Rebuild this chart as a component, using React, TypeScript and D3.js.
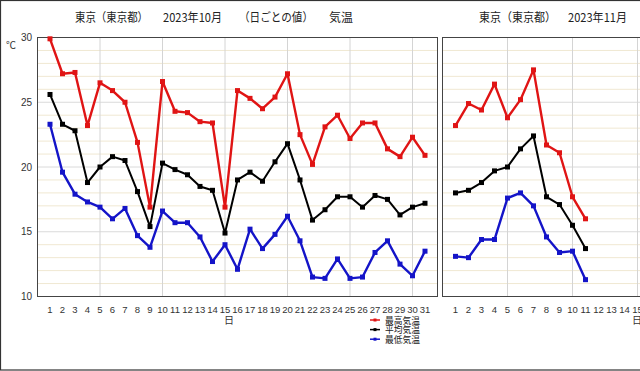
import React from 'react';
import * as d3 from 'd3';

// ---- data ----
const octDays = [1,2,3,4,5,6,7,8,9,10,11,12,13,14,15,16,17,18,19,20,21,22,23,24,25,26,27,28,29,30,31];
const octMax = [29.9,27.2,27.3,23.2,26.5,25.9,25.0,21.9,16.9,26.6,24.3,24.2,23.5,23.4,16.9,25.9,25.3,24.5,25.4,27.2,22.5,20.2,23.1,24.0,22.2,23.4,23.4,21.4,20.8,22.3,20.9];
const octMean = [25.6,23.3,22.8,18.8,20.0,20.8,20.5,18.1,15.4,20.3,19.8,19.4,18.5,18.2,14.9,19.0,19.6,18.9,20.4,21.8,19.0,15.9,16.7,17.7,17.7,16.9,17.8,17.5,16.3,16.9,17.2];
const octMin = [23.3,19.6,17.9,17.3,16.9,16.0,16.8,14.7,13.8,16.6,15.7,15.7,14.6,12.7,14.0,12.1,15.2,13.7,14.8,16.2,14.3,11.5,11.4,12.9,11.4,11.5,13.4,14.3,12.5,11.6,13.5];

// November axis labels visible in the frame
const novDays = [1,2,3,4,5,6,7,8,9,10,11,12,13,14,15];
const novMax = [23.2,24.9,24.4,26.4,23.8,25.2,27.5,21.7,21.1,17.7,16.0];
const novMean = [18.0,18.2,18.8,19.7,20.0,21.4,22.4,17.7,17.1,15.5,13.7];
const novMin = [13.1,13.0,14.4,14.4,17.6,18.0,17.0,14.6,13.4,13.5,11.3];

const yTicks = [10, 15, 20, 25, 30];
const gridDays = [5, 10, 15, 20, 25, 30];
const seriesNames = ['最高気温', '平均気温', '最低気温'];
const seriesColors = ['#e01414', '#000000', '#1414c8'];

const JP = '"Noto Sans CJK JP", sans-serif';
const NUM = '"Liberation Sans", Arial, sans-serif';

type PanelProps = {
  x: d3.ScaleLinear<number, number>;
  y: d3.ScaleLinear<number, number>;
  x0: number; x1: number;
  days: number[];
  series: number[][];
  showYAxis: boolean;
  dayLabelX: number;
};

function Panel({ x, y, x0, x1, days, series, showYAxis, dayLabelX }: PanelProps) {
  const top = y(30);
  const bottom = y(10);
  const minor = d3.range(10, 31, 1).filter(v => v % 5 !== 0);
  const line = d3.line<number>().x((_, i) => x(i + 1)).y(d => y(d));
  const widths = [2.4, 2, 2.4];
  return (
    <g>
      <rect x={x0} y={top} width={x1 - x0} height={bottom - top} fill="#fff" />
      {minor.map(v => (
        <line key={'m' + v} x1={x0} x2={x1} y1={y(v)} y2={y(v)} stroke="#f0e8d2" strokeWidth={1} />
      ))}
      {yTicks.map(v => (
        <line key={'M' + v} x1={x0} x2={x1} y1={y(v)} y2={y(v)} stroke="#dadada" strokeWidth={1} />
      ))}
      {gridDays.map(d => (
        <line key={'v' + d} x1={x(d)} x2={x(d)} y1={top} y2={bottom} stroke="#d4d4d4" strokeWidth={1} />
      ))}
      <rect x={x0} y={top} width={x1 - x0} height={bottom - top} fill="none" stroke="#444" strokeWidth={1} />
      {series.map((s, si) => (
        <g key={'s' + si}>
          <path d={line(s) || ''} fill="none" stroke={seriesColors[si]} strokeWidth={widths[si]} strokeLinejoin="round" />
          {s.map((v, i) => (
            <rect key={i} x={x(i + 1) - 2.5} y={y(v) - 2.5} width={5} height={5} fill={seriesColors[si]} />
          ))}
        </g>
      ))}
      {showYAxis && yTicks.map(v => (
        <text key={'yl' + v} x={32} y={y(v) + 3.5} textAnchor="end" fontSize={10} fontFamily={NUM} fill="#333">{v}</text>
      ))}
      {days.map(d => (
        <text key={'xl' + d} x={x(d)} y={313} textAnchor="middle" fontSize={9.5} fontFamily={NUM} fill="#333">{d}</text>
      ))}
      <text x={dayLabelX} y={324} textAnchor="middle" fontSize={10} fontFamily={JP} fill="#333">日</text>
    </g>
  );
}

export default function App() {
  const W = 640, H = 371;
  const y = d3.scaleLinear().domain([10, 30]).range([296.5, 37.5]);
  const xOct = d3.scaleLinear().domain([0, 32]).range([37.5, 437.5]);
  const xNov = d3.scaleLinear().domain([0, 32]).range([442.5, 858.5]);

  return (
    <svg width={W} height={H} style={{ position: 'absolute', left: 0, top: 0, background: '#fff' }}>
      <rect x={0} y={0} width={W} height={H} fill="#fff" />
      <rect x={0.5} y={0.5} width={W + 10} height={H - 1.5} fill="none" stroke="#333" strokeWidth={1.2} />

      {/* titles */}
      <g fontFamily={JP} fontSize={12} fill="#222">
        <text x={75} y={22} textLength={73} lengthAdjust="spacingAndGlyphs">東京（東京都）</text>
        <text x={163} y={22} textLength={59} lengthAdjust="spacingAndGlyphs">2023年10月</text>
        <text x={239} y={22} textLength={74} lengthAdjust="spacingAndGlyphs">（日ごとの値）</text>
        <text x={329} y={22} textLength={24} lengthAdjust="spacingAndGlyphs">気温</text>
        <text x={479} y={22} textLength={77} lengthAdjust="spacingAndGlyphs">東京（東京都）</text>
        <text x={568} y={22} textLength={59} lengthAdjust="spacingAndGlyphs">2023年11月</text>
      </g>
      <text x={6} y={49} fontFamily={JP} fontSize={10} fill="#333">℃</text>

      <Panel x={xOct} y={y} x0={37.5} x1={437.5} days={octDays} series={[octMax, octMean, octMin]} showYAxis={true} dayLabelX={229} />
      <Panel x={xNov} y={y} x0={442.5} x1={858.5} days={novDays} series={[novMax, novMean, novMin]} showYAxis={false} dayLabelX={637} />

      {/* legend */}
      {seriesNames.map((n, i) => (
        <g key={n} transform={`translate(0, ${320 + i * 9.6})`}>
          <line x1={370} x2={380} y1={0} y2={0} stroke={seriesColors[i]} strokeWidth={1.5} />
          <rect x={373.5} y={-1.5} width={3} height={3} fill={seriesColors[i]} />
          <text x={385} y={3.5} fontFamily={JP} fontSize={9.5} fill="#222" textLength={35} lengthAdjust="spacingAndGlyphs">{n}</text>
        </g>
      ))}
    </svg>
  );
}
